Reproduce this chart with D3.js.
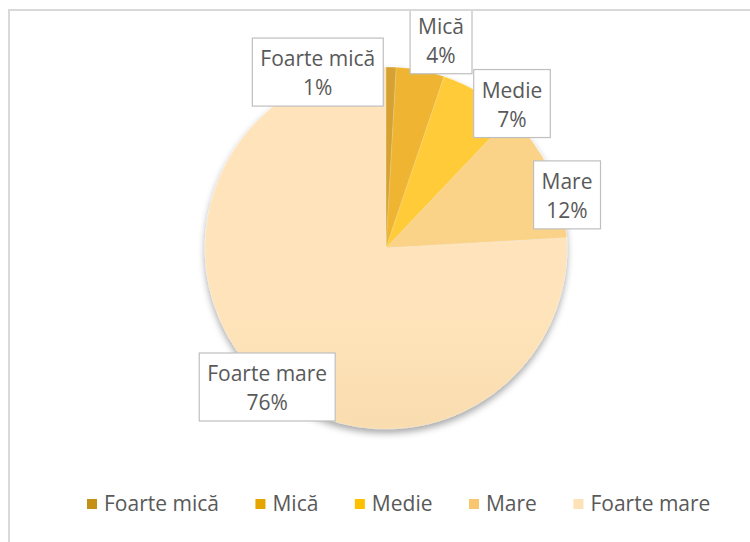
<!DOCTYPE html>
<html><head><meta charset="utf-8">
<script src="https://cdn.jsdelivr.net/npm/d3@7"></script>
<style>html,body{margin:0;padding:0;background:#fff;}svg{display:block;}</style>
</head><body>
<svg id="chart" width="750" height="542"></svg>
<script>
// Data
const categories = ["Foarte mică", "Mică", "Medie", "Mare", "Foarte mare"];
const values = [0.9, 4.3, 6.9, 12.0, 75.9];
const percentLabels = ["1%", "4%", "7%", "12%", "76%"];

// Styles
const colorTop = ["#d6a233", "#efb530", "#ffcb38", "#fbd388", "#ffe4bb"];
const colorBottom = ["#bd880c", "#d99d00", "#efb500", "#edbd66", "#eccd95"];
const legendColors = ["#c49015", "#e4a500", "#ffc000", "#f8c66c", "#fde2b8"];
const labelNudge = [[-74, 29], [16, -7], [20, 31], [-5, 33], [22, -10]];

const W = 750, H = 542;
const cx = 386, cy = 248, R = 181;
const font = "'Open Sans', 'Noto Sans', sans-serif";
const fontSize = 21;
const textColor = "#595959";

const svg = d3.select("#chart");
const defs = svg.append("defs");

// border (open at right/bottom)
svg.append("line").attr("x1", 8).attr("x2", W).attr("y1", 10).attr("y2", 10)
  .attr("stroke", "#d9d9d9").attr("stroke-width", 2);
svg.append("line").attr("x1", 9).attr("x2", 9).attr("y1", 9).attr("y2", H)
  .attr("stroke", "#d9d9d9").attr("stroke-width", 2);

defs.append("clipPath").attr("id", "area").append("rect")
  .attr("x", 10).attr("y", 11).attr("width", W).attr("height", H);

const flt = defs.append("filter").attr("id", "shadow")
  .attr("x", "-20%").attr("y", "-20%").attr("width", "140%").attr("height", "140%");
flt.append("feDropShadow").attr("dx", 0).attr("dy", 4).attr("stdDeviation", 3.5)
  .attr("flood-color", "#000").attr("flood-opacity", 0.35);

categories.forEach((c, i) => {
  const g = defs.append("linearGradient").attr("id", "grad" + i)
    .attr("gradientUnits", "userSpaceOnUse")
    .attr("x1", cx).attr("y1", cy - R).attr("x2", cx).attr("y2", cy + R);
  g.append("stop").attr("offset", "0%").attr("stop-color", colorTop[i]);
  g.append("stop").attr("offset", "100%").attr("stop-color", colorBottom[i]);
});

const pie = d3.pie().sort(null).value(d => d);
const arcs = pie(values);
const arc = d3.arc().innerRadius(0).outerRadius(R);

const pg = svg.append("g").attr("transform", `translate(${cx},${cy})`)
  .attr("filter", "url(#shadow)");
pg.selectAll("path").data(arcs).join("path")
  .attr("d", arc)
  .attr("fill", (d, i) => `url(#grad${i})`)
  .attr("stroke", "rgba(255,255,255,0.25)").attr("stroke-width", 0.6);

// labels
const lg = svg.append("g").attr("clip-path", "url(#area)");
const lineGap = 29, boxH = 68, padX = 8;
arcs.forEach((d, i) => {
  const mid = (d.startAngle + d.endAngle) / 2;
  const rl = R + 24;
  const x = cx + rl * Math.sin(mid) + labelNudge[i][0];
  const y = cy - rl * Math.cos(mid) + labelNudge[i][1];
  const g = lg.append("g");
  const rect = g.append("rect");
  const t1 = g.append("text").attr("x", x).attr("y", y - 6)
    .attr("text-anchor", "middle").attr("font-family", font).attr("font-size", fontSize)
    .attr("fill", textColor).text(categories[i]);
  const t2 = g.append("text").attr("x", x).attr("y", y - 6 + lineGap)
    .attr("text-anchor", "middle").attr("font-family", font).attr("font-size", fontSize)
    .attr("fill", textColor).text(percentLabels[i]);
  const w = Math.max(t1.node().getComputedTextLength(), t2.node().getComputedTextLength()) + 2 * padX;
  rect.attr("x", x - w / 2).attr("y", y - boxH / 2).attr("width", w).attr("height", boxH)
    .attr("fill", "#fff").attr("stroke", "#bfbfbf").attr("stroke-width", 1.2);
});

// legend
const legY = 504, sq = 10, gapSq = 7, gapItem = 36.5;
const leg = svg.append("g");
const items = [];
categories.forEach((c, i) => {
  const it = leg.append("g");
  it.append("rect").attr("x", 0).attr("y", legY - sq / 2).attr("width", sq).attr("height", sq)
    .attr("fill", legendColors[i]);
  const t = it.append("text").attr("x", sq + gapSq).attr("y", legY).attr("dy", "0.35em")
    .attr("font-family", font).attr("font-size", fontSize).attr("fill", textColor).text(c);
  const w = sq + gapSq + t.node().getComputedTextLength();
  items.push({ it, w });
});
let lx = 87;
items.forEach(d => { d.it.attr("transform", `translate(${lx},0)`); lx += d.w + gapItem; });
</script>
</body></html>
